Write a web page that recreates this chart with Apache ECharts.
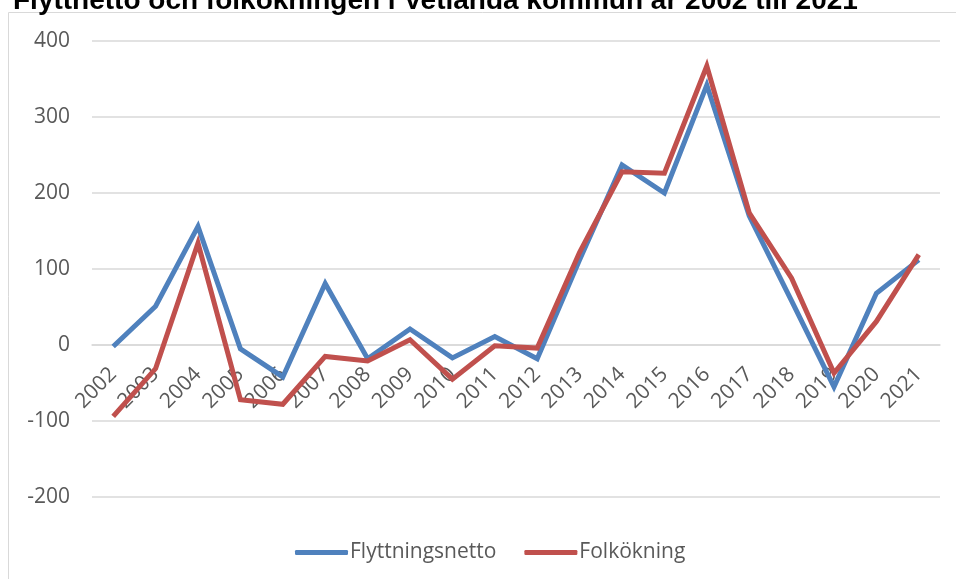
<!DOCTYPE html>
<html>
<head>
<meta charset="utf-8">
<script src="https://cdn.jsdelivr.net/npm/echarts@6/dist/echarts.min.js"></script>
<style>
  html, body { margin: 0; padding: 0; background: #fff; }
  #chart { width: 956px; height: 579px; }
</style>
</head>
<body>
<div id="chart"></div>
<script>
/* =================================
   Data
================================= */

var years = ["2002", "2003", "2004", "2005", "2006", "2007", "2008", "2009", "2010", "2011",
             "2012", "2013", "2014", "2015", "2016", "2017", "2018", "2019", "2020", "2021"];

var flyttningsnetto = [-2, 51, 156, -5, -42, 81, -18, 21, -17, 11,
                       -18, 112, 237, 200, 342, 170, 58, -55, 68, 112];

var folkokning = [-94, -31, 134, -72, -78, -15, -21, 7, -45, -1,
                  -4, 122, 228, 226, 367, 174, 88, -37, 31, 119];

var yTicks = [-200, -100, 0, 100, 200, 300, 400];

/* =================================
   Chart
================================= */

var labelFont = '"Open Sans", "Noto Sans", sans-serif';

var chart = echarts.init(document.getElementById("chart"));

chart.setOption({
  animation: false,
  title: {
    text: "Flyttnetto och folkökningen i Vetlanda kommun år 2002 till 2021",
    left: 13,
    top: -13,
    padding: 0,
    textStyle: { fontFamily: '"Liberation Sans", sans-serif', fontWeight: "bold", fontSize: 28, color: "#000" }
  },
  graphic: [{
    type: "rect",
    z: -1,
    silent: true,
    shape: { x: 8.5, y: 12.5, width: 1000, height: 1000 },
    style: { fill: "none", stroke: "#d9d9d9", lineWidth: 1 }
  }],
  legend: {
    top: 537,
    left: 290,
    icon: "roundRect",
    itemWidth: 53,
    itemHeight: 5,
    itemGap: 28,
    textStyle: { fontFamily: labelFont, fontSize: 21, color: "#595959", padding: [0, 0, 0, -3] },
    data: ["Flyttningsnetto", "Folkökning"]
  },
  grid: { left: 92, right: 16, top: 41, bottom: 82, containLabel: false },
  xAxis: {
    type: "category",
    data: years,
    boundaryGap: true,
    offset: -152,
    axisLine: { onZero: false, lineStyle: { color: "#d9d9d9", width: 1.5 } },
    axisTick: { show: false },
    axisLabel: { rotate: 45, margin: 26, fontFamily: labelFont, fontSize: 21, color: "#595959" }
  },
  yAxis: {
    type: "value",
    min: yTicks[0],
    max: yTicks[yTicks.length - 1],
    interval: 100,
    axisLine: { show: false },
    axisTick: { show: false },
    axisLabel: { margin: 22, fontFamily: labelFont, fontSize: 21, color: "#595959" },
    splitLine: { lineStyle: { color: "#d9d9d9", width: 1.5 } }
  },
  series: [
    {
      name: "Flyttningsnetto",
      type: "line",
      data: flyttningsnetto,
      showSymbol: false,
      color: "#4f81bd",
      lineStyle: { width: 5, color: "#4f81bd", join: "miter" }
    },
    {
      name: "Folkökning",
      type: "line",
      data: folkokning,
      showSymbol: false,
      color: "#c0504d",
      lineStyle: { width: 5, color: "#c0504d", join: "miter" }
    }
  ]
});
</script>
</body>
</html>
